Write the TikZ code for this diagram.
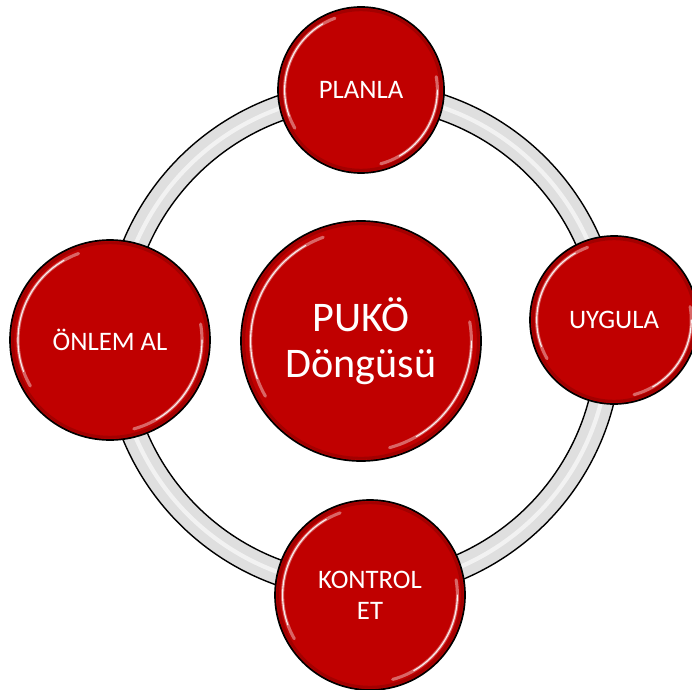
\documentclass[tikz,border=0pt]{standalone}
\usepackage{fontspec}
\setmainfont{Carlito}
\definecolor{pukored}{HTML}{C00000}
\tikzset{
  bubble/.style={circle, draw=black, line width=1.2pt, fill=pukored, text=white,
    align=center, inner sep=0pt, font=\fontsize{19}{22}\selectfont},
  gloss/.style={white, line width=2.2pt, opacity=0.4, line cap=round},
  shine/.style={white, line width=0.8pt, opacity=0.9, line cap=round},
}
\begin{document}
\begin{tikzpicture}
        \useasboundingbox (0,0) rectangle (17.3,17.225);

        % ring behind the circles
        \fill [gray!25, even odd rule] (9.06,8.71) circle (6.475) (9.06,8.71) circle (5.85);
        \draw [white, opacity=0.6, line width=3pt] (9.06,8.71) circle (6.16);
        \draw [black, line width=1pt] (9.06,8.71) circle (6.475);
        \draw [black, line width=1pt] (9.06,8.71) circle (5.85);

        % steps on the ring
        \foreach \nm/\x/\y/\r/\txt in {planla/9.025/14.975/2.075/PLANLA,
            uygula/15.35/9.225/2.1/UYGULA, kontrol/9.25/2.35/2.375/{KONTROL\\ET},
            onlem/2.75/8.725/2.5/ÖNLEM AL}
        {
          \node [bubble, minimum size={2*\r cm}] (\nm) at (\x,\y) {\txt};
          \draw [pukored!70!black, opacity=0.5, line width=2pt] (\nm.center) circle ({\r-0.07});
          \draw [gloss] (\nm.center) ++(110:0.92*\r) arc (110:210:0.92*\r);
          \draw [shine] (\nm.center) ++(120:0.92*\r) arc (120:200:0.92*\r);
          \draw [gloss] (\nm.center) ++(-75:0.92*\r) arc (-75:10:0.92*\r);
          \draw [shine] (\nm.center) ++(-60:0.92*\r) arc (-60:0:0.92*\r);
        }

        % centre
        \node [bubble, minimum size=6cm, font=\fontsize{30}{33}\selectfont] (puko) at (9.025,8.7) {PUKÖ\\Döngüsü};
        \draw [pukored!70!black, opacity=0.5, line width=2pt] (puko.center) circle (2.93);
        \draw [gloss] (puko.center) ++(110:2.76) arc (110:210:2.76);
        \draw [shine] (puko.center) ++(120:2.76) arc (120:200:2.76);
        \draw [gloss] (puko.center) ++(-75:2.76) arc (-75:10:2.76);
        \draw [shine] (puko.center) ++(-60:2.76) arc (-60:0:2.76);
\end{tikzpicture}
\end{document}
